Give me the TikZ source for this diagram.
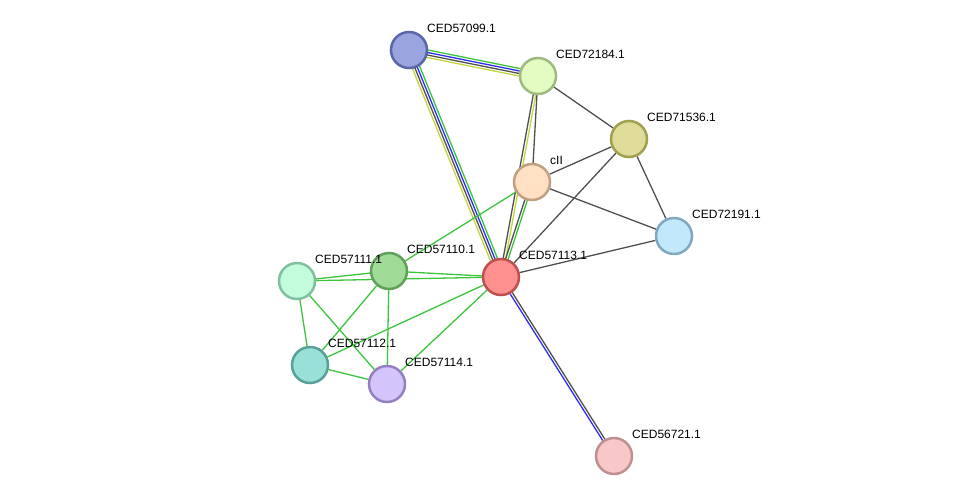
\documentclass[tikz,border=0pt]{standalone}
\usepackage{fontspec}
\setmainfont{Liberation Sans}
\usetikzlibrary{calc}
\pgfdeclarelayer{bg}
\pgfsetlayers{bg,main}
\definecolor{eg}{HTML}{3CC43C}
\definecolor{eb}{HTML}{2E2EF0}
\definecolor{ey}{HTML}{C4D63E}
\definecolor{ek}{HTML}{505050}
\tikzset{
  prot/.style={circle, minimum size=36pt, inner sep=0pt, line width=2.5pt},
  lbl/.style={anchor=west, inner sep=0pt, font=\fontsize{12}{14}\selectfont},
  edg/.style={line width=1.3pt},
}
\newcommand{\medge}[4]{\draw[edg, #4] ($(#1)!#3!90:(#2)$) -- ($(#2)!#3!-90:(#1)$);}
\begin{document}
\begin{tikzpicture}[x=1pt,y=-1pt]
\useasboundingbox (0,0) rectangle (975,501);
\node[prot, fill={rgb,255:red,154;green,165;blue,224}, draw={rgb,255:red,90;green,102;blue,168}] (n57099) at (409,50) {};
\node[prot, fill={rgb,255:red,226;green,252;blue,194}, draw={rgb,255:red,160;green,186;blue,128}] (n72184) at (538,76) {};
\node[prot, fill={rgb,255:red,222;green,220;blue,152}, draw={rgb,255:red,160;green,160;blue,80}] (n71536) at (629,139) {};
\node[prot, fill={rgb,255:red,255;green,224;blue,194}, draw={rgb,255:red,192;green,160;blue,128}] (ncII) at (532,182) {};
\node[prot, fill={rgb,255:red,194;green,232;blue,252}, draw={rgb,255:red,128;green,168;blue,192}] (n72191) at (674,236) {};
\node[prot, fill={rgb,255:red,255;green,144;blue,144}, draw={rgb,255:red,192;green,80;blue,80}] (n57113) at (501,277) {};
\node[prot, fill={rgb,255:red,160;green,220;blue,152}, draw={rgb,255:red,96;green,160;blue,88}] (n57110) at (389,271) {};
\node[prot, fill={rgb,255:red,194;green,252;blue,220}, draw={rgb,255:red,128;green,192;blue,160}] (n57111) at (297,281) {};
\node[prot, fill={rgb,255:red,152;green,224;blue,216}, draw={rgb,255:red,88;green,160;blue,152}] (n57112) at (310,365) {};
\node[prot, fill={rgb,255:red,212;green,196;blue,252}, draw={rgb,255:red,148;green,128;blue,192}] (n57114) at (387,384) {};
\node[prot, fill={rgb,255:red,248;green,200;blue,200}, draw={rgb,255:red,192;green,144;blue,144}] (n56721) at (614,456) {};

\node[lbl] (l57099) at ($(n57099)+(18,-22)$) {CED57099.1};
\node[lbl] (l72184) at ($(n72184)+(18,-22)$) {CED72184.1};
\node[lbl] (l71536) at ($(n71536)+(18,-22)$) {CED71536.1};
\node[lbl] (lcII) at ($(ncII)+(18,-22)$) {cII};
\node[lbl] (l72191) at ($(n72191)+(18,-22)$) {CED72191.1};
\node[lbl] (l57113) at ($(n57113)+(18,-22)$) {CED57113.1};
\node[lbl] (l57110) at ($(n57110)+(18,-22)$) {CED57110.1};
\node[lbl] (l57111) at ($(n57111)+(18,-22)$) {CED57111.1};
\node[lbl] (l57112) at ($(n57112)+(18,-22)$) {CED57112.1};
\node[lbl] (l57114) at ($(n57114)+(18,-22)$) {CED57114.1};
\node[lbl] (l56721) at ($(n56721)+(18,-22)$) {CED56721.1};

\begin{pgfonlayer}{bg}
\medge{n57099}{n72184}{3.75pt}{eg}
\medge{n57099}{n72184}{1.25pt}{eb}
\medge{n57099}{n72184}{-1.25pt}{ek}
\medge{n57099}{n72184}{-3.75pt}{ey}
\medge{n57099}{n57113}{3.75pt}{eg}
\medge{n57099}{n57113}{1.25pt}{eb}
\medge{n57099}{n57113}{-1.25pt}{ek}
\medge{n57099}{n57113}{-3.75pt}{ey}
\medge{n72184}{n57113}{-1.25pt}{ek}
\medge{n72184}{n57113}{1.25pt}{ey}
\medge{ncII}{n57113}{-1.25pt}{ek}
\medge{ncII}{n57113}{1.25pt}{eg}
\medge{n57113}{n56721}{-1.25pt}{eb}
\medge{n57113}{n56721}{1.25pt}{ek}
\draw[edg, ek] (n72184) -- (ncII);
\draw[edg, ek] (n72184) -- (n71536);
\draw[edg, ek] (ncII) -- (n71536);
\draw[edg, ek] (ncII) -- (n72191);
\draw[edg, ek] (n71536) -- (n57113);
\draw[edg, ek] (n71536) -- (n72191);
\draw[edg, ek] (n57113) -- (n72191);
\draw[edg, eg] (ncII) -- (n57110);
\draw[edg, eg] (n57111) -- (n57110);
\draw[edg, eg] (n57111) -- (n57113);
\draw[edg, eg] (n57110) -- (n57113);
\draw[edg, eg] (n57110) -- (n57112);
\draw[edg, eg] (n57110) -- (n57114);
\draw[edg, eg] (n57111) -- (n57112);
\draw[edg, eg] (n57111) -- (n57114);
\draw[edg, eg] (n57112) -- (n57114);
\draw[edg, eg] (n57112) -- (n57113);
\draw[edg, eg] (n57114) -- (n57113);
\end{pgfonlayer}
\end{tikzpicture}
\end{document}
